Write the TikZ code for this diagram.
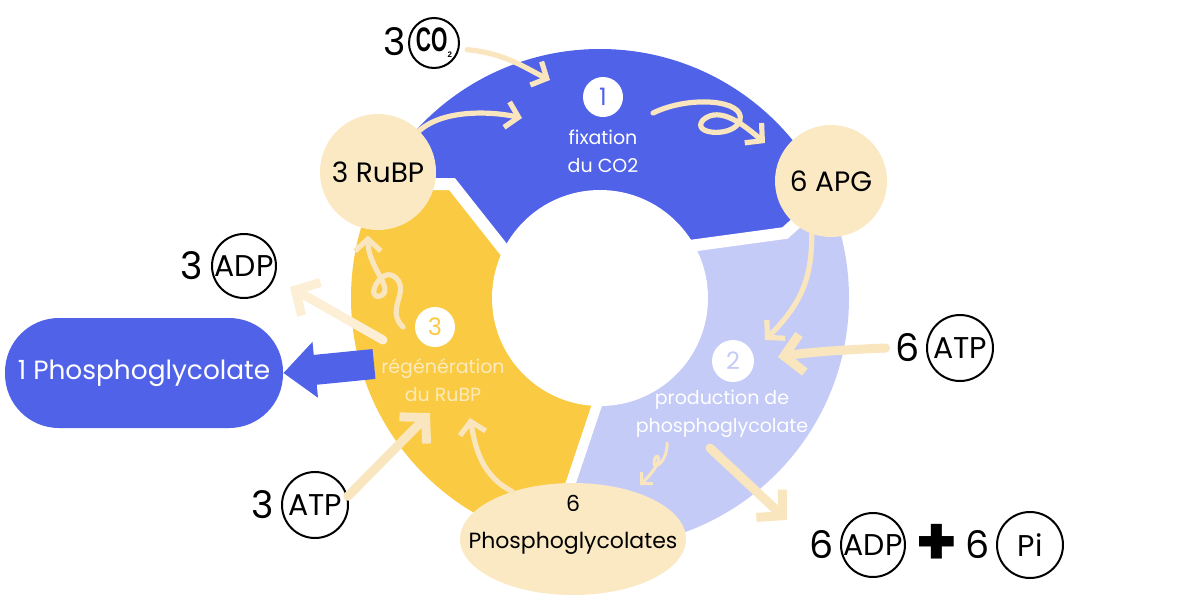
\documentclass[tikz,border=0pt]{standalone}
\usepackage{fontspec}
\setmainfont{Poppins}
\newfontfamily\cofont{Liberation Sans}
\usetikzlibrary{arrows.meta,shapes.geometric}
\definecolor{blueC}{RGB}{80,98,232}
\definecolor{lavC}{RGB}{197,203,247}
\definecolor{yelC}{RGB}{250,202,66}
\definecolor{creamC}{RGB}{251,233,196}
\definecolor{arrowC}{RGB}{250,230,190}
\definecolor{fadeC}{RGB}{252,239,214}
\definecolor{labC}{RGB}{252,234,186}
\tikzset{
  bignum/.style={font=\fontsize{19}{19}\selectfont, inner sep=0},
  mol/.style={circle, draw=black, line width=1pt, inner sep=0, minimum size=32pt, font=\fontsize{15}{15}\selectfont},
  creamnode/.style={circle, fill=creamC, inner sep=0, font=\fontsize{14}{14}\selectfont},
  stepnum/.style={circle, fill=white, inner sep=0, minimum size=20pt, font=\fontsize{12}{12}\selectfont},
  steplab/.style={align=center, font=\fontsize{9.5}{14}\selectfont},
  carr/.style={draw=arrowC, line width=2.6pt, line cap=round, line join=round, -{Straight Barb[length=6pt,width=13pt]}},
  carrT/.style={draw=arrowC, line width=4.5pt, line cap=round, line join=round, -{Straight Barb[length=9pt,width=19pt]}},
  carrS/.style={draw=arrowC, line width=1.5pt, line cap=round, line join=round, -{Straight Barb[length=4pt,width=8pt]}},
  gap/.style={draw=white, line width=6pt}
}
\begin{document}
\begin{tikzpicture}[x=0.5pt,y=-0.5pt]
\useasboundingbox (0,0) rectangle (1200,600);
\fill[white] (0,0) rectangle (1200,600);
% ring
\begin{scope}
  \clip (600,298) circle[radius=249];
  \fill[blueC] (540,295) -- (452,184) -- (380,184) -- (300,150) -- (200,150) -- (200,-20) -- (1000,-20) -- (1000,200) -- (800,220) -- (785,233) -- (697,245) -- (620,258) -- cycle;
  \fill[yelC] (540,295) -- (452,184) -- (380,184) -- (300,150) -- (150,150) -- (150,650) -- (514,650) -- (610,366) -- cycle;
  \fill[lavC] (610,366) -- (514,650) -- (1000,650) -- (1000,200) -- (800,220) -- (785,233) -- (697,245) -- (620,258) -- cycle;
\end{scope}
\draw[gap] (520,270) -- (452,184) -- (370,184);
\draw[gap] (640,252) -- (697,245) -- (785,233) -- (805,215);
\draw[gap, line width=5pt] (610,366) -- (555,530);
\fill[white] (600,298) circle[radius=108];
% left box
\node[fill=blueC, rounded corners=27pt, minimum width=139pt, minimum height=55pt, inner sep=0, text=white, font=\fontsize{13.2}{13.2}\selectfont] (pg1) at (144,373) {1 Phosphoglycolate};
\coordinate (bas) at (374,364);
\draw[blueC, line width=15pt, -{Triangle[length=16pt,width=27pt]}] (bas) -- (pg1.east);
% cream nodes
\node[creamnode, minimum size=58pt] (rubp) at (378,172) {3 RuBP};
\node[creamnode, minimum size=56pt] (apg) at (831,181) {6 APG};
\node[ellipse, fill=creamC, minimum width=113pt, minimum height=56pt, inner sep=0] (pgs) at (573,539) {};
\node[align=center, font=\fontsize{11}{18.5}\selectfont] (pgstxt) at (573,525) {6\\Phosphoglycolates};
% step numbers and labels
\node[stepnum, text=blueC] (n1) at (603,97) {1};
\node[steplab, text=white] (l1) at (603,151) {fixation\\du CO2};
\node[stepnum, text=lavC, minimum size=21pt] (n2) at (733,361) {2};
\node[steplab, text=white] (l2) at (722,414) {production de\\phosphoglycolate};
\node[stepnum, text=yelC] (n3) at (435,327) {3};
\node[steplab, text=labC] (l3) at (443,380) {régénération\\du RuBP};
% molecules
\node[bignum] (co2n) at (395,42) {3};
\node[mol, minimum size=25pt] (co2) at (434,43) {\cofont\bfseries\fontsize{17}{17}\selectfont\scalebox{0.62}[1]{CO}\raisebox{-3pt}{\fontsize{4}{4}\selectfont 2}};
\node[bignum] (adp1n) at (192,266) {3};
\node[mol] (adp1) at (244,266) {ADP};
\node[bignum] (atp1n) at (908,348) {6};
\node[mol, minimum size=33pt] (atp1) at (960,348) {ATP};
\node[bignum] (atp2n) at (263,505) {3};
\node[mol, minimum size=33pt] (atp2) at (315,505) {ATP};
\node[bignum] (adp2n) at (822,545) {6};
\node[mol] (adp2) at (873,545) {ADP};
\node[font=\fontsize{34}{34}\selectfont\bfseries, inner sep=0] (plus) at (937,545) {+};
\node[bignum] (pin) at (978,545) {6};
\node[mol, minimum size=33pt] (pi) at (1030,545) {Pi};
% coordinates for free ends
\coordinate (co2e) at (550,80);
\coordinate (rube) at (522,118);
\coordinate (lp1s) at (653,113);
\coordinate (lp1e) at (765,143);
\coordinate (apge) at (765,340);
\coordinate (atp1e) at (778,357);
\coordinate (adp2s) at (710,448);
\coordinate (adp2e) at (787,520);
\coordinate (lp2s) at (667,443);
\coordinate (lp2e) at (640,485);
\coordinate (pgse) at (470,418);
\coordinate (atp2e) at (430,413);
\coordinate (adp1s) at (383,340);
\coordinate (adp1e) at (290,287);
\coordinate (lp3s) at (403,327);
% arrows
\draw[carr] ([xshift=4pt]co2.-15) .. controls (505,53) and (525,68) .. (co2e);
\draw[carr] (rubp.45) .. controls (445,108) and (495,112) .. (rube);
\draw[carr] (lp1s) .. controls (690,95) and (745,100) .. (740,120) .. controls (735,138) and (690,135) .. (703,120) .. controls (720,105) and (745,126) .. (lp1e);
\draw[carr] (apg.-110) .. controls (812,280) and (800,305) .. (apge);
\draw[carrT] ([xshift=-5pt]atp1n.west) .. controls (840,350) and (810,352) .. (atp1e);
\draw[carrT] (adp2s) -- (adp2e);
\draw[carrS] (lp2s) .. controls (668,462) and (652,472) .. (654,461) .. controls (656,450) and (668,458) .. (lp2e);
\draw[carr] (pgs.142) .. controls (480,475) and (475,445) .. (pgse);
\draw[carrT] (atp2.15) -- (atp2e);
\draw[carrT, draw=fadeC] (adp1s) -- (adp1e);
\draw[carr] (lp3s) .. controls (385,310) and (410,292) .. (396,278) .. controls (382,264) and (364,300) .. (380,296) .. controls (396,290) and (368,268) .. ([yshift=-3pt]rubp.-100);
\end{tikzpicture}
\end{document}
